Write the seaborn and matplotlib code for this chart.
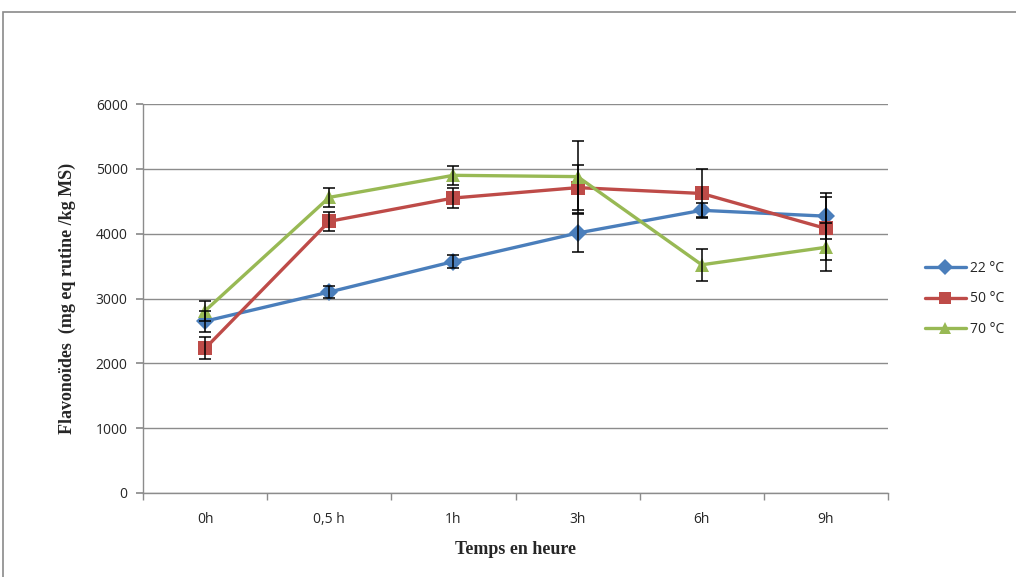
import numpy as np
import pandas as pd
import matplotlib
matplotlib.use("Agg")
import matplotlib.pyplot as plt
import seaborn as sns
from matplotlib.patches import Rectangle
from matplotlib.lines import Line2D

categories = ["0h", "0,5 h", "1h", "3h", "6h", "9h"]
series_names = ["22 °C", "50 °C", "70 °C"]
vals_22 = [2650, 3100, 3570, 4010, 4360, 4270]
vals_50 = [2230, 4190, 4550, 4710, 4620, 4080]
vals_70 = [2810, 4560, 4900, 4880, 3520, 3790]
err_22 = [160, 90, 100, 290, 110, 350]
err_50 = [170, 145, 150, 350, 380, 490]
err_70 = [150, 150, 150, 555, 245, 370]

colors = ["#4A7EBB", "#BE4B48", "#98B954"]
markers = ["D", "s", "^"]

rows = []
for name, vals in zip(series_names, [vals_22, vals_50, vals_70]):
    for c, v in zip(categories, vals):
        rows.append({"Temps": c, "Valeur": v, "Série": name})
df = pd.DataFrame(rows)

sns.set_theme(style="white")
plt.rcParams["font.family"] = ["Open Sans", "DejaVu Sans"]

fig = plt.figure(figsize=(10.16, 5.77), dpi=100)
ax = fig.add_axes([143/1016, 1-493/577, (888-143)/1016, (493-104)/577])

# outer chart border
fig.patches.append(Rectangle((3/1016, -0.1), 1.2, 1 - 12/577 + 0.1, transform=fig.transFigure,
                             fill=False, edgecolor="#8a8a8a", linewidth=1.2))

sns.lineplot(data=df, x="Temps", y="Valeur", hue="Série", style="Série",
             palette=colors, markers=markers, dashes=False, markersize=9.5,
             linewidth=2.4, markeredgewidth=0, ax=ax, legend=False, zorder=3,
             sort=False)

xpos = np.arange(len(categories))
for vals, errs in zip([vals_22, vals_50, vals_70], [err_22, err_50, err_70]):
    ax.errorbar(xpos, vals, yerr=errs, fmt="none", ecolor="black",
                elinewidth=1.1, capsize=4, capthick=1.1, zorder=4)

ax.set_xlim(-0.5, 5.5)
ax.set_ylim(0, 6000)
ax.set_yticks(np.arange(0, 6001, 1000))
ax.set_yticklabels([str(v) for v in range(0, 6001, 1000)])
ax.set_xticks(xpos)
ax.set_xticklabels(categories)
ax.set_xticks(np.arange(-0.5, 5.6, 1), minor=True)
ax.grid(axis="y", color="#8c8c8c", linewidth=1.0)
ax.set_axisbelow(True)
for s in ["top", "right"]:
    ax.spines[s].set_visible(False)
for s in ["left", "bottom"]:
    ax.spines[s].set_color("#8c8c8c")
    ax.spines[s].set_linewidth(1.0)
ax.tick_params(axis="y", which="major", length=5, color="#8c8c8c", labelsize=10, pad=6, left=True)
ax.tick_params(axis="x", which="major", length=0, labelsize=10, pad=14)
ax.tick_params(axis="x", which="minor", length=5, color="#8c8c8c", bottom=True)

ax.set_xlabel("Temps en heure", fontsize=13, fontweight="bold",
              family=["Liberation Serif", "DejaVu Serif"], labelpad=10)
ax.set_ylabel("Flavonoïdes  (mg eq rutine /kg MS)", fontsize=13, fontweight="bold",
              family=["Liberation Serif", "DejaVu Serif"], labelpad=14)

handles = [Line2D([0], [0], color=c, marker=m, markersize=8, linewidth=2.4, markeredgewidth=0)
           for c, m in zip(colors, markers)]
fig.legend(handles, series_names, loc="center left", bbox_to_anchor=(912/1016, 1-299/577),
           frameon=False, fontsize=10, handlelength=3, labelspacing=1.1, handletextpad=0.3)

fig.savefig("out.png", dpi=100, facecolor="white")
